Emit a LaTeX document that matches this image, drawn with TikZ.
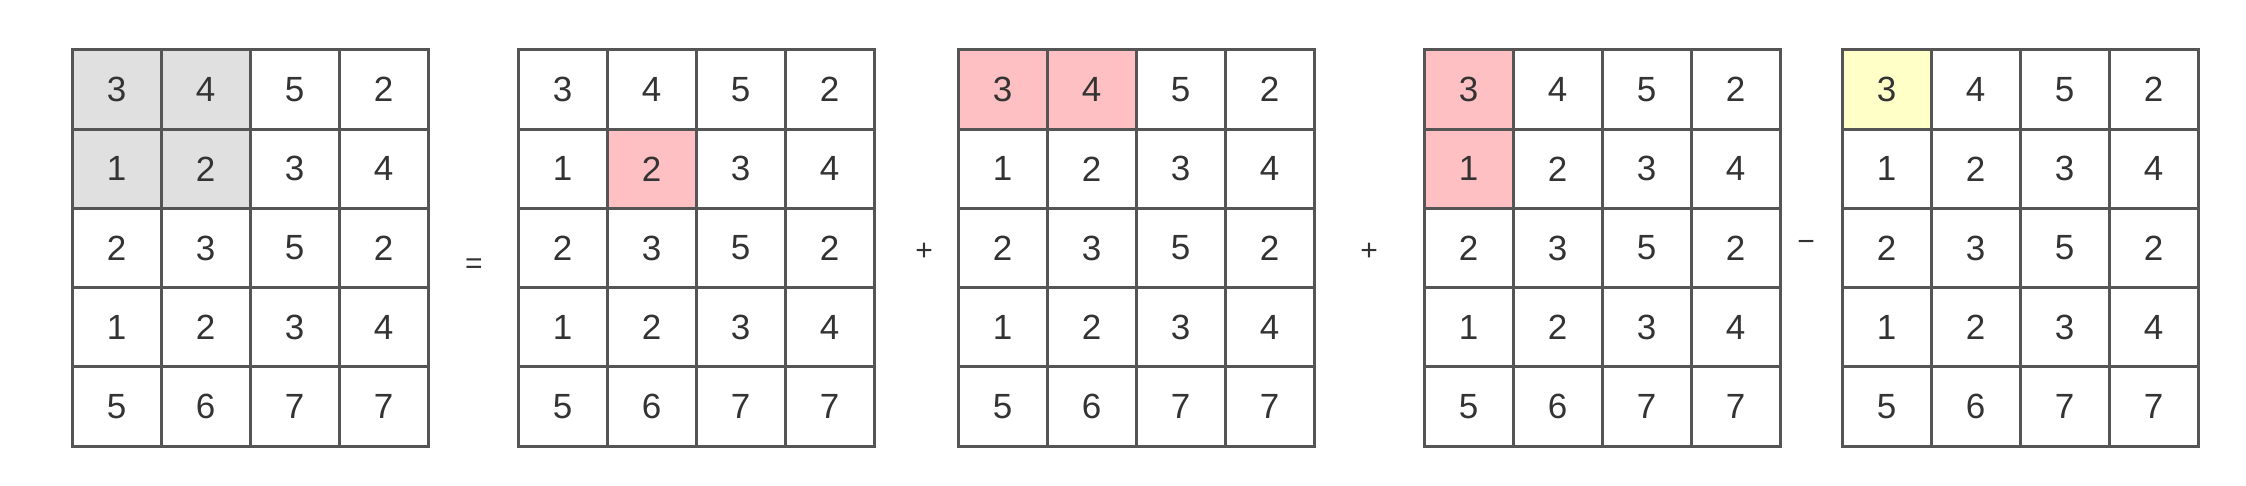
\documentclass[tikz,border=0pt]{standalone}
\usepackage{fontspec}
\setmainfont{Liberation Sans}
\definecolor{linec}{HTML}{555555}
\definecolor{textc}{HTML}{333333}
\definecolor{grayc}{HTML}{E0E0E0}
\definecolor{pinkc}{HTML}{FFC0C3}
\definecolor{yelc}{HTML}{FFFFC8}
\tikzset{
  cell/.style={draw=linec, line width=3pt, minimum width=89pt, minimum height=79.2pt,
    inner sep=0pt, outer sep=0pt, text=textc, font=\fontsize{35}{40}\selectfont, anchor=center},
  op/.style={text=textc, font=\fontsize{30}{34}\selectfont, inner sep=0pt},
  c1-1-1/.style={fill=grayc}, c1-1-2/.style={fill=grayc},
  c1-2-1/.style={fill=grayc}, c1-2-2/.style={fill=grayc},
  c2-2-2/.style={fill=pinkc},
  c3-1-1/.style={fill=pinkc}, c3-1-2/.style={fill=pinkc},
  c4-1-1/.style={fill=pinkc}, c4-2-1/.style={fill=pinkc},
  c5-1-1/.style={fill=yelc},
}
\begin{document}
\begin{tikzpicture}[x=1pt,y=-1pt]
\useasboundingbox[fill=white] (0,0) rectangle (2246,486);
\foreach \g/\x in {1/72,2/518,3/958,4/1424,5/1842}{
  \foreach \row [count=\r] in {{3,4,5,2},{1,2,3,4},{2,3,5,2},{1,2,3,4},{5,6,7,7}}{
    \foreach \v [count=\c] in \row{
      \node[cell, c\g-\r-\c/.try] (g\g-\r-\c) at (\x+\c*89-44.5, 50+\r*79.2-39.6) {\v};
    }
  }
}
\node[op] (eq) at (474,266) {=};
\node[op] (p1) at (924,252) {+};
\node[op] (p2) at (1369,252) {+};
\node[op] (mi) at (1806,246) {\char"2212};
\end{tikzpicture}
\end{document}
